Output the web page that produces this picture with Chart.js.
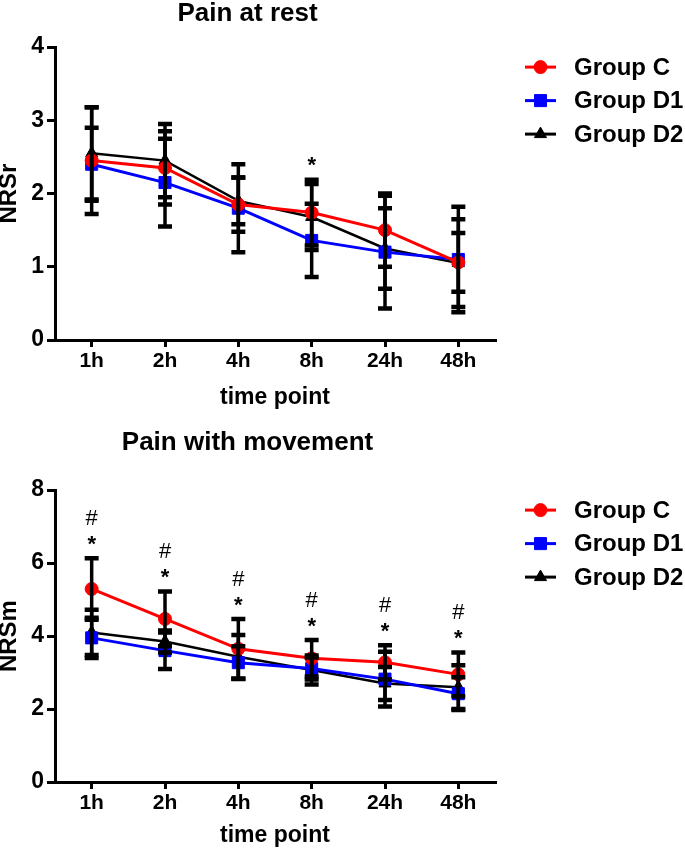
<!DOCTYPE html>
<html>
<head>
<meta charset="utf-8">
<script src="https://cdn.jsdelivr.net/npm/chart.js"></script>
<style>
    html, body { margin: 0; padding: 0; background: #fff; }
    .panel { position: absolute; left: 0; width: 685px; }
    #rest-wrap { top: 0; height: 425px; }
    #move-wrap { top: 425px; height: 427px; }
</style>
</head>
<body>
<div class="panel" id="rest-wrap"><canvas id="restChart"></canvas></div>
<div class="panel" id="move-wrap"><canvas id="moveChart"></canvas></div>
<script>
// Time points
const timePoints = ['1h', '2h', '4h', '8h', '24h', '48h'];
const groupNames = ['Group C', 'Group D1', 'Group D2'];

// Pain at rest (NRSr): means and SD
const restC = [2.45, 2.35, 1.85, 1.74, 1.50, 1.06];
const restD1 = [2.40, 2.15, 1.80, 1.36, 1.20, 1.10];
const restD2 = [2.55, 2.45, 1.90, 1.68, 1.25, 1.05];
const restSdC = [0.73, 0.50, 0.37, 0.45, 0.50, 0.40];
const restSdD1 = [0.50, 0.60, 0.60, 0.50, 0.77, 0.72];
const restSdD2 = [0.63, 0.50, 0.32, 0.45, 0.55, 0.60];
const restSig = [[], [], [], ['*'], [], []];

// Pain with movement (NRSm): means and SD
const moveC = [5.29, 4.47, 3.65, 3.39, 3.28, 2.95];
const moveD1 = [3.95, 3.60, 3.27, 3.11, 2.82, 2.42];
const moveD2 = [4.10, 3.85, 3.43, 3.07, 2.70, 2.60];
const moveSdC = [0.84, 0.75, 0.82, 0.50, 0.47, 0.60];
const moveSdD1 = [0.55, 0.50, 0.45, 0.30, 0.75, 0.45];
const moveSdD2 = [0.62, 0.30, 0.60, 0.40, 0.45, 0.60];
const moveSig = [['#', '*'], ['#', '*'], ['#', '*'], ['#', '*'], ['#', '*'], ['#', '*']];

const FONT = '"Liberation Sans", Arial, sans-serif';

// vertical SD bars with caps, drawn on top of the lines
const errorBars = {
    id: 'errorBars',
    afterDatasetsDraw(chart) {
        const ctx = chart.ctx;
        const y = chart.scales.y;
        ctx.save();
        ctx.strokeStyle = '#000';
        chart.data.datasets.forEach((ds, i) => {
            chart.getDatasetMeta(i).data.forEach((pt, j) => {
                const hi = y.getPixelForValue(ds.data[j] + ds.sd[j]);
                const lo = y.getPixelForValue(ds.data[j] - ds.sd[j]);
                ctx.lineWidth = 3.5;
                ctx.beginPath();
                ctx.moveTo(pt.x, hi); ctx.lineTo(pt.x, lo);
                ctx.stroke();
                ctx.lineWidth = 4.5;
                ctx.beginPath();
                ctx.moveTo(pt.x - 7, hi); ctx.lineTo(pt.x + 7, hi);
                ctx.moveTo(pt.x - 7, lo); ctx.lineTo(pt.x + 7, lo);
                ctx.stroke();
            });
        });
        ctx.restore();
    }
};

// significance marks (* and #) stacked above the highest bar
const sigMarks = {
    id: 'sigMarks',
    afterDatasetsDraw(chart, args, opts) {
        const ctx = chart.ctx;
        const y = chart.scales.y;
        const x = chart.scales.x;
        const size = 22;
        const glyphMid = { '*': 0.575, '#': 0.36 };
        ctx.save();
        ctx.fillStyle = '#000';
        ctx.textAlign = 'center';
        ctx.textBaseline = 'alphabetic';
        (opts.marks || []).forEach((marks, j) => {
            if (!marks.length) return;
            let top = Infinity;
            chart.data.datasets.forEach(ds => {
                top = Math.min(top, y.getPixelForValue(ds.data[j] + ds.sd[j]));
            });
            const px = x.getPixelForValue(j);
            marks.slice().reverse().forEach((m, k) => {
                const mid = top - 20 - 21 * k;
                ctx.font = (m === '*' ? 'bold ' : '') + `${size}px ${FONT}`;
                ctx.fillText(m, px, mid + glyphMid[m] * size);
            });
        });
        ctx.restore();
    }
};

// legend to the right of the plot: line + marker + bold label
const sideLegend = {
    id: 'sideLegend',
    afterDraw(chart) {
        const ctx = chart.ctx;
        const area = chart.chartArea;
        ctx.save();
        chart.data.datasets.forEach((ds, i) => {
            const cy = area.top + 20 + i * 33.5;
            const x0 = area.right + 30;
            ctx.strokeStyle = ds.borderColor;
            ctx.lineWidth = 3;
            ctx.beginPath();
            ctx.moveTo(x0, cy); ctx.lineTo(x0 + 31, cy);
            ctx.stroke();
            ctx.fillStyle = ds.pointBackgroundColor;
            ctx.strokeStyle = ds.pointBackgroundColor;
            ctx.lineWidth = 1;
            Chart.helpers.drawPoint(ctx, { pointStyle: ds.pointStyle, radius: ds.pointRadius, rotation: 0, borderWidth: 1 }, x0 + 15.5, cy);
            ctx.fillStyle = '#000';
            ctx.font = `bold 24px ${FONT}`;
            ctx.textAlign = 'left';
            ctx.textBaseline = 'middle';
            ctx.fillText(ds.label, area.right + 79, cy + 1);
        });
        ctx.restore();
    }
};

function makeDataset(label, data, sd, color, style, radius, width) {
    return {
        label: label,
        data: data,
        sd: sd,
        borderColor: color,
        backgroundColor: color,
        pointBackgroundColor: color,
        pointBorderColor: color,
        pointStyle: style,
        pointRadius: radius,
        pointBorderWidth: 1,
        borderWidth: width,
        tension: 0
    };
}

function makeChart(id, opts) {
    const axisGrid = { display: true, drawOnChartArea: false, drawTicks: true, color: '#000', lineWidth: 3 };
    return new Chart(document.getElementById(id), {
        type: 'line',
        data: {
            labels: timePoints,
            datasets: [
                makeDataset(groupNames[0], opts.c, opts.sdC, '#ff0000', 'circle', 6.5, 3),
                makeDataset(groupNames[1], opts.d1, opts.sdD1, '#0000ff', 'rect', 8.5, 3),
                makeDataset(groupNames[2], opts.d2, opts.sdD2, '#000000', 'triangle', 7, 2.5)
            ]
        },
        options: {
            responsive: true,
            maintainAspectRatio: false,
            animation: false,
            layout: { padding: { left: 0, right: 190, top: 0, bottom: 0 } },
            plugins: {
                legend: { display: false },
                tooltip: { enabled: false },
                title: {
                    display: true,
                    text: opts.title,
                    color: '#000',
                    font: { family: FONT, size: 26, weight: 'bold', lineHeight: 0.85 },
                    padding: opts.titlePad
                },
                sigMarks: { marks: opts.sig }
            },
            scales: {
                x: {
                    offset: true,
                    grid: Object.assign({ tickLength: 7 }, axisGrid),
                    border: { display: true, color: '#000', width: 3 },
                    ticks: { color: '#000', padding: 2, font: { family: FONT, size: 21, weight: 'bold' } },
                    title: {
                        display: true, text: 'time point', color: '#000',
                        font: { family: FONT, size: 23, weight: 'bold' },
                        padding: { top: 0, bottom: opts.xTitlePad }
                    },
                    afterFit: s => { s.height = opts.xHeight; }
                },
                y: {
                    min: 0,
                    max: opts.yMax,
                    grid: Object.assign({ tickLength: 8 }, axisGrid),
                    border: { display: true, color: '#000', width: 3 },
                    ticks: { stepSize: opts.yStep, color: '#000', padding: 3, font: { family: FONT, size: 23, weight: 'bold' } },
                    title: {
                        display: true, text: opts.yLabel, color: '#000',
                        font: { family: FONT, size: 24, weight: 'bold', lineHeight: 1 },
                        padding: { top: -3, bottom: 0 }
                    },
                    afterFit: s => { s.width = 55; }
                }
            }
        },
        plugins: [errorBars, sigMarks, sideLegend]
    });
}

makeChart('restChart', {
    title: 'Pain at rest', yLabel: 'NRSr', yMax: 4, yStep: 1,
    c: restC, d1: restD1, d2: restD2, sdC: restSdC, sdD1: restSdD1, sdD2: restSdD2,
    sig: restSig, titlePad: { top: 3, bottom: 22 }, xHeight: 85, xTitlePad: 14
});

makeChart('moveChart', {
    title: 'Pain with movement', yLabel: 'NRSm', yMax: 8, yStep: 2,
    c: moveC, d1: moveD1, d2: moveD2, sdC: moveSdC, sdD1: moveSdD1, sdD2: moveSdD2,
    sig: moveSig, titlePad: { top: 7, bottom: 36 }, xHeight: 70, xTitlePad: 3
});
</script>
</body>
</html>
